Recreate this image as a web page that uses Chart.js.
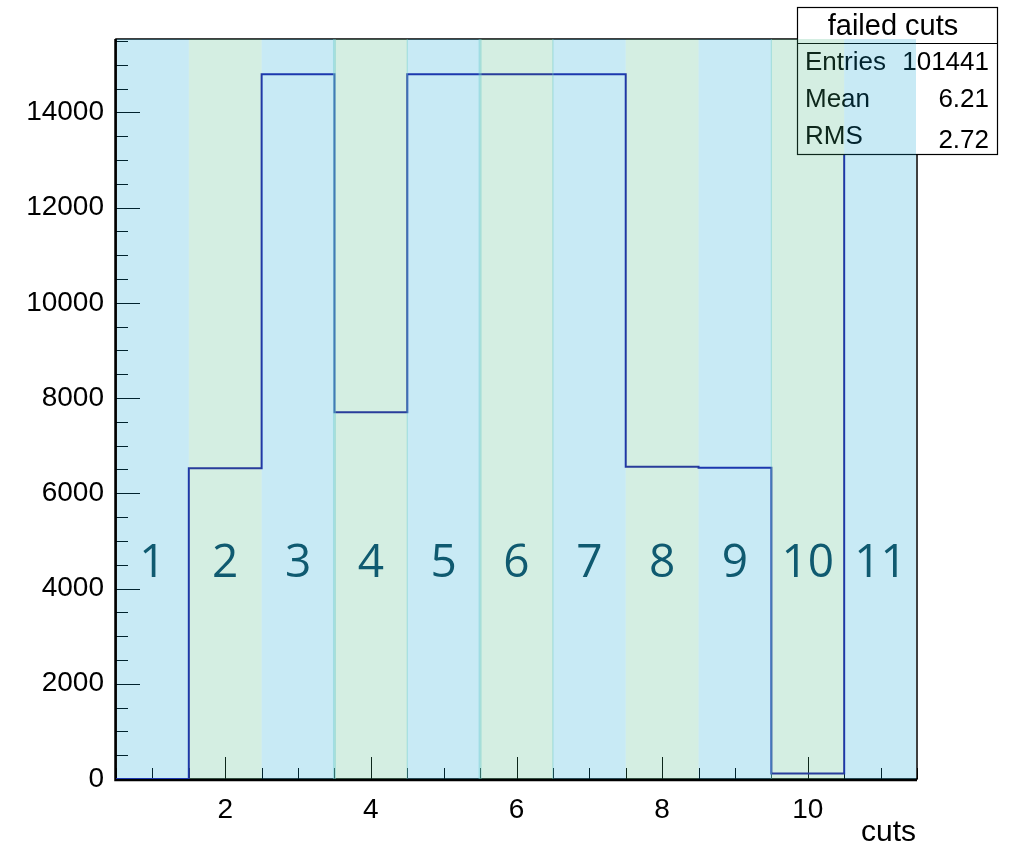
<!DOCTYPE html>
<html>
<head>
<meta charset="utf-8">
<title>failed cuts</title>
<script src="https://cdn.jsdelivr.net/npm/chart.js@4.4.1/dist/chart.umd.min.js"></script>
<style>
  html, body { margin: 0; padding: 0; background: #ffffff; }
  #wrap { width: 1012px; height: 845px; }
</style>
</head>
<body>
<div id="wrap"><canvas id="c" width="1012" height="845"></canvas></div>
<script>
// Histogram contents: one bin per cut
const cuts = [1, 2, 3, 4, 5, 6, 7, 8, 9, 10, 11];
const failed = [0, 6528, 14800, 7703, 14800, 14800, 14800, 6555, 6535, 118, 14800];
const bandLabels = ['1', '2', '3', '4', '5', '6', '7', '8', '9', '10', '11'];

// Axis ticks
const xTickValues = [2, 4, 6, 8, 10];
const yTickValues = [0, 2000, 4000, 6000, 8000, 10000, 12000, 14000];

// Statistics box
const statsTitle = 'failed cuts';
const statsNames = ['Entries', 'Mean', 'RMS'];
const statsValues = ['101441', '6.21', '2.72'];
const xTitle = 'cuts';

const FONT = '"Liberation Sans", Arial, Helvetica, sans-serif';
const BAND_COLORS = ['rgba(5,160,210,0.22)', 'rgba(60,178,123,0.22)'];

// Step outline: left edge of every bin, then the right edge of the last one
const outline = cuts.map((c, i) => ({ x: c - 0.5, y: failed[i] }));
outline.push({ x: cuts[cuts.length - 1] + 0.5, y: failed[failed.length - 1] });

const xMin = cuts[0] - 0.5;
const xMax = cuts[cuts.length - 1] + 0.5;
const yMax = Math.max(...failed) * 1.05;

// Frame and inward-pointing tick marks
const framePlugin = {
  id: 'frame',
  beforeDatasetsDraw(chart) {
    const { ctx, chartArea: a, scales: { x, y } } = chart;
    ctx.save();
    ctx.strokeStyle = '#000';
    ctx.lineWidth = 1;
    // x ticks every half unit, long ones on labelled values
    for (let v = xMin; v <= xMax + 1e-9; v += 0.5) {
      const px = Math.round(x.getPixelForValue(v)) + 0.5;
      const len = xTickValues.includes(v) ? 22 : 11;
      ctx.beginPath();
      ctx.moveTo(px, a.bottom);
      ctx.lineTo(px, a.bottom - len);
      ctx.stroke();
    }
    // y ticks every 500, long ones on labelled values
    for (let v = 0; v <= yMax; v += 500) {
      const py = Math.round(y.getPixelForValue(v)) + 0.5;
      const len = yTickValues.includes(v) ? 24 : 12;
      ctx.beginPath();
      ctx.moveTo(a.left, py);
      ctx.lineTo(a.left + len, py);
      ctx.stroke();
    }
    // box around the plot
    ctx.lineWidth = 1.5;
    ctx.strokeRect(a.left, a.top, a.right - a.left, a.bottom - a.top);
    ctx.lineWidth = 2.5;
    ctx.beginPath();
    ctx.moveTo(a.left - 0.5, a.top);
    ctx.lineTo(a.left - 0.5, a.bottom + 1);
    ctx.lineTo(a.right, a.bottom + 1);
    ctx.stroke();
    ctx.restore();
  }
};

// Statistics box, shaded bands per cut and their numbers
const overlayPlugin = {
  id: 'overlay',
  afterDatasetsDraw(chart) {
    const { ctx, chartArea: a, scales: { x } } = chart;
    ctx.save();

    // stats box
    const bx = 797, by = 7, bw = 200, bh = 147, sep = 36;
    ctx.fillStyle = '#fff';
    ctx.fillRect(bx, by, bw, bh);
    ctx.strokeStyle = '#000';
    ctx.lineWidth = 1.2;
    ctx.strokeRect(bx + 0.5, by + 0.5, bw, bh);
    ctx.beginPath();
    ctx.moveTo(bx, by + sep + 0.5);
    ctx.lineTo(bx + bw, by + sep + 0.5);
    ctx.stroke();
    ctx.fillStyle = '#000';
    ctx.textBaseline = 'middle';
    ctx.textAlign = 'center';
    ctx.font = '29px ' + FONT;
    ctx.fillText(statsTitle, bx + bw / 2 - 4, by + 20);
    ctx.font = '26px ' + FONT;
    const rowY = [63, 100, 137];
    statsNames.forEach((n, i) => {
      ctx.textAlign = 'left';
      ctx.fillText(n, bx + 8, rowY[i]);
      ctx.textAlign = 'right';
      ctx.fillText(statsValues[i], bx + bw - 8, rowY[i] + (i === 2 ? 4 : 0));
    });

    // bands
    ctx.beginPath();
    ctx.rect(a.left + 1, a.top, a.right - a.left - 2, a.bottom - a.top);
    ctx.clip();
    cuts.forEach((c, i) => {
      const x0 = x.getPixelForValue(c - 0.5);
      const x1 = x.getPixelForValue(c + 0.5);
      ctx.fillStyle = BAND_COLORS[i % 2];
      ctx.fillRect(x0, a.top, x1 - x0, a.bottom - a.top);
    });
    // faint seams between some bands
    const seams = [[3.5, 3], [4.5, 1.2], [5.5, 3], [6.5, 1.2], [9.5, 1.2]];
    ctx.strokeStyle = 'rgba(110,205,205,0.45)';
    seams.forEach(([v, w]) => {
      const px = x.getPixelForValue(v);
      ctx.lineWidth = w;
      ctx.beginPath();
      ctx.moveTo(px, a.top);
      ctx.lineTo(px, a.bottom);
      ctx.stroke();
    });

    // band numbers
    ctx.fillStyle = '#0f5a70';
    ctx.font = '46px "Open Sans", Lato, sans-serif';
    ctx.textAlign = 'center';
    ctx.textBaseline = 'alphabetic';
    bandLabels.forEach((t, i) => {
      ctx.fillText(t, x.getPixelForValue(cuts[i]), 577);
    });
    ctx.restore();

    // axis title
    ctx.save();
    ctx.fillStyle = '#000';
    ctx.font = '30px ' + FONT;
    ctx.textAlign = 'right';
    ctx.textBaseline = 'alphabetic';
    ctx.fillText(xTitle, a.right - 1, 841);
    ctx.restore();
  }
};

new Chart(document.getElementById('c'), {
  type: 'line',
  data: {
    datasets: [{
      label: statsTitle,
      data: outline,
      stepped: 'before',
      borderColor: 'rgb(35,28,165)',
      borderWidth: 2,
      pointRadius: 0,
      fill: false
    }]
  },
  options: {
    responsive: false,
    devicePixelRatio: 1,
    animation: false,
    events: [],
    layout: { padding: { left: 0, right: 95, top: 39, bottom: 0 } },
    plugins: { legend: { display: false }, tooltip: { enabled: false } },
    scales: {
      x: {
        type: 'linear',
        min: xMin,
        max: xMax,
        grid: { display: false, drawTicks: false },
        border: { display: false },
        afterBuildTicks(s) { s.ticks = xTickValues.map(v => ({ value: v })); },
        afterFit(s) { s.height = 66; },
        ticks: {
          padding: 14,
          maxRotation: 0,
          autoSkip: false,
          color: '#000',
          font: { family: FONT, size: 28 },
          callback: v => String(v)
        }
      },
      y: {
        type: 'linear',
        min: 0,
        max: yMax,
        grid: { display: false, drawTicks: false },
        border: { display: false },
        afterBuildTicks(s) { s.ticks = yTickValues.map(v => ({ value: v })); },
        afterFit(s) { s.width = 116; },
        ticks: {
          padding: 12,
          autoSkip: false,
          color: '#000',
          font: { family: FONT, size: 28 },
          callback: v => String(v)
        }
      }
    }
  },
  plugins: [framePlugin, overlayPlugin]
});
</script>
</body>
</html>
